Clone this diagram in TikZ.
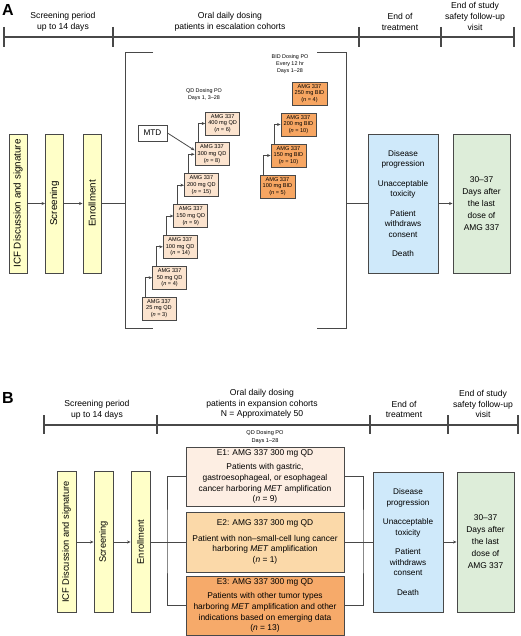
\documentclass[tikz,border=0pt]{standalone}
\usepackage{fontspec}
\setmainfont{Liberation Sans}
\usetikzlibrary{arrows.meta,calc}
\definecolor{lc}{HTML}{484848}
\definecolor{ylw}{HTML}{FFFFC8}
\definecolor{peach}{HTML}{FBE3CE}
\definecolor{bidc}{HTML}{F7A662}
\definecolor{bluec}{HTML}{CFE9FA}
\definecolor{greenc}{HTML}{DDEDD9}
\definecolor{eone}{HTML}{FDEEE3}
\definecolor{etwo}{HTML}{FBD9A9}
\definecolor{ethree}{HTML}{F6AA6A}
\newcommand\myfs[2]{\fontsize{#1}{#2}\selectfont}
\begin{document}
\begin{tikzpicture}[x=1pt,y=-1pt,
  hline/.style={draw=lc,line width=1.2pt},
  hdr/.style={font=\myfs{8.6}{10.7},align=center,inner sep=0},
  tinyt/.style={font=\myfs{5.4}{7},align=center,inner sep=0},
  bx/.style={draw=lc,line width=0.9pt,inner sep=0,align=center},
  vbox/.style={bx,fill=ylw,minimum width=18pt,minimum height=139pt},
  qd/.style={bx,fill=peach,minimum width=34pt,minimum height=23pt,font=\myfs{5.6}{6.8}},
  bid/.style={bx,fill=bidc,minimum width=35pt,minimum height=23pt,font=\myfs{5.6}{6.8}},
  ebox/.style={bx,minimum width=158pt,font=\myfs{8.4}{10.7}},
  endbox/.style={bx,fill=bluec,minimum width=70pt,font=\myfs{8.2}{10.5}},
  fupbox/.style={bx,fill=greenc,minimum width=57pt,font=\myfs{8.4}{12}},
  conn/.style={draw=lc,line width=0.8pt,-{Stealth[length=3.5pt,width=3pt]}},
  plain/.style={draw=lc,line width=0.8pt},
  brk/.style={draw=lc,line width=1pt},
  panel/.style={font=\myfs{16}{16}\bfseries,anchor=north west,inner sep=0}
]
\useasboundingbox (0,0) rectangle (520,636);

%%%%%%%%%%%%%%%% Panel A
\node[panel] (pa) at (2,4) {A};
\draw[hline] (4,37) -- (514,37);
\foreach \x in {4,113,359,441,514} \draw[hline] (\x,27) -- (\x,47);
\node[hdr] (ha1) at (63,22) {Screening period\\up to 14 days};
\node[hdr] (ha2) at (230,22) {Oral daily dosing\\patients in escalation cohorts};
\node[hdr] (ha3) at (400,22) {End of\\treatment};
\node[hdr] (ha4) at (475,16.5) {End of study\\safety follow-up\\visit};

% left yellow boxes
\node[vbox] (icfA) at (18,203.5) {};
\node[rotate=90,font=\myfs{9.8}{11}] at (icfA) {ICF Discussion and signature};
\node[vbox] (scrA) at (54.5,203.5) {};
\node[rotate=90,font=\myfs{9.8}{11}] at (scrA) {Screening};
\node[vbox] (enrA) at (92,203.5) {};
\node[rotate=90,font=\myfs{9.8}{11}] at (enrA) {Enrollment};
\draw[conn] (icfA.east) -- (scrA.west);
\draw[conn] (scrA.east) -- (enrA.west);

% bracket
\draw[brk] (153,53) -- (125,53) -- (125,328) -- (153,328);
\draw[brk] (317,53) -- (346,53) -- (346,328) -- (317,328);
\coordinate (bl) at (125,203.5);
\coordinate (br) at (346,203.5);
\draw[plain] (enrA.east) -- (bl);

% QD escalation
\node[tinyt] (qdt) at (204,95) {QD Dosing PO\\Days 1, 3--28};
\node[qd] (q25)  at (159,308.5)   {AMG 337\\25 mg QD\\(\textit{n} = 3)};
\node[qd] (q50)  at (169.6,277.7) {AMG 337\\50 mg QD\\(\textit{n} = 4)};
\node[qd] (q100) at (180.2,246.8) {AMG 337\\100 mg QD\\(\textit{n} = 14)};
\node[qd] (q150) at (190.8,216)   {AMG 337\\150 mg QD\\(\textit{n} = 9)};
\node[qd] (q200) at (201.4,185.2) {AMG 337\\200 mg QD\\(\textit{n} = 15)};
\node[qd] (q300) at (212,154.3)   {AMG 337\\300 mg QD\\(\textit{n} = 8)};
\node[qd] (q400) at (222.6,123.5) {AMG 337\\400 mg QD\\(\textit{n} = 6)};
\draw[conn] ([xshift=4pt]q25.north west)  |- (q50.west);
\draw[conn] ([xshift=4pt]q50.north west)  |- (q100.west);
\draw[conn] ([xshift=4pt]q100.north west) |- (q150.west);
\draw[conn] ([xshift=4pt]q150.north west) |- (q200.west);
\draw[conn] ([xshift=4pt]q200.north west) |- (q300.west);
\draw[conn] ([xshift=4pt]q300.north west) |- (q400.west);
\node[bx,fill=white,minimum width=29pt,minimum height=16pt,font=\myfs{8.2}{9}] (mtd) at (152.5,133) {MTD};
\draw[conn] (mtd.east) -- ([yshift=4pt]q300.west);

% BID escalation
\node[tinyt] (bidt) at (290,64.5) {BID Dosing PO\\Every 12 hr\\Days 1--28};
\node[bid] (b100) at (277.5,186.5) {AMG 337\\100 mg BID\\(\textit{n} = 5)};
\node[bid] (b150) at (288.5,155.5) {AMG 337\\150 mg BID\\(\textit{n} = 10)};
\node[bid] (b200) at (298.5,124.5) {AMG 337\\200 mg BID\\(\textit{n} = 10)};
\node[bid] (b250) at (309.5,93.5)  {AMG 337\\250 mg BID\\(\textit{n} = 4)};
\draw[conn] ([xshift=4pt]b100.north west) |- (b150.west);
\draw[conn] ([xshift=4pt]b150.north west) |- (b200.west);

% end of treatment / follow-up
\node[endbox,minimum height=139pt] (endA) at (403,203.5)
  {Disease\\progression\\[9pt]Unacceptable\\toxicity\\[9pt]Patient\\withdraws\\consent\\[9pt]Death};
\node[fupbox,minimum height=139pt] (fupA) at (481.5,203.5)
  {30--37\\Days after\\the last\\dose of\\AMG 337};
\draw[plain] (br) -- (endA.west);
\draw[conn] (endA.east) -- (fupA.west);

%%%%%%%%%%%%%%%% Panel B
\node[panel] (pb) at (2,392) {B};
\draw[hline] (44,425) -- (518,425);
\foreach \x in {44,157,370,448,518} \draw[hline] (\x,415) -- (\x,434);
\node[hdr] (hb1) at (97,409.5) {Screening period\\up to 14 days};
\node[hdr] (hb2) at (262,404) {Oral daily dosing\\patients in expansion cohorts\\N = Approximately 50};
\node[hdr] (hb3) at (404,409.5) {End of\\treatment};
\node[hdr] (hb4) at (483,404) {End of study\\safety follow-up\\visit};

\node[tinyt,font=\myfs{5.6}{7.6}] (qdtb) at (265,437) {QD Dosing PO\\Days 1--28};

\node[vbox,minimum width=19pt,minimum height=141pt] (icfB) at (66.5,542) {};
\node[rotate=90,font=\myfs{9.3}{11}] at (icfB) {ICF Discussion and signature};
\node[vbox,minimum width=19pt,minimum height=141pt] (scrB) at (103.5,542) {};
\node[rotate=90,font=\myfs{9.3}{11}] at (scrB) {Screening};
\node[vbox,minimum width=19pt,minimum height=141pt] (enrB) at (140.5,542) {};
\node[rotate=90,font=\myfs{9.3}{11}] at (enrB) {Enrollment};
\draw[conn] (icfB.east) -- (scrB.west);
\draw[conn] (scrB.east) -- (enrB.west);

\node[ebox,fill=eone,minimum height=59pt] (e1) at (265,476.5)
  {E1: AMG 337 300 mg QD\\[4pt]Patients with gastric,\\gastroesophageal, or esophageal\\cancer harboring \textit{MET} amplification\\(\textit{n} = 9)};
\node[ebox,fill=etwo,minimum height=60pt] (e2) at (265,542)
  {E2: AMG 337 300 mg QD\\[5pt]Patient with non--small-cell lung cancer\\harboring \textit{MET} amplification\\(\textit{n} = 1)};
\node[ebox,fill=ethree,minimum height=59pt] (e3) at (265,605.5)
  {E3: AMG 337 300 mg QD\\[4pt]Patients with other tumor types\\harboring \textit{MET} amplification and other\\indications based on emerging data\\(\textit{n} = 13)};

\coordinate (jl) at (167,542);
\coordinate (jr) at (363,542);
\draw[plain] (enrB.east) -- (jl);
\draw[plain] (e1.west) -| (jl) |- (e3.west);
\draw[plain] (jl) -- (e2.west);
\draw[plain] (e1.east) -| (jr) |- (e3.east);
\draw[plain] (e2.east) -- (jr);

\node[endbox,minimum height=140pt] (endB) at (408,542)
  {Disease\\progression\\[9pt]Unacceptable\\toxicity\\[9pt]Patient\\withdraws\\consent\\[9pt]Death};
\node[fupbox,minimum height=140pt] (fupB) at (485.5,542)
  {30--37\\Days after\\the last\\dose of\\AMG 337};
\draw[plain] (jr) -- (endB.west);
\draw[conn] (endB.east) -- (fupB.west);
\end{tikzpicture}
\end{document}
